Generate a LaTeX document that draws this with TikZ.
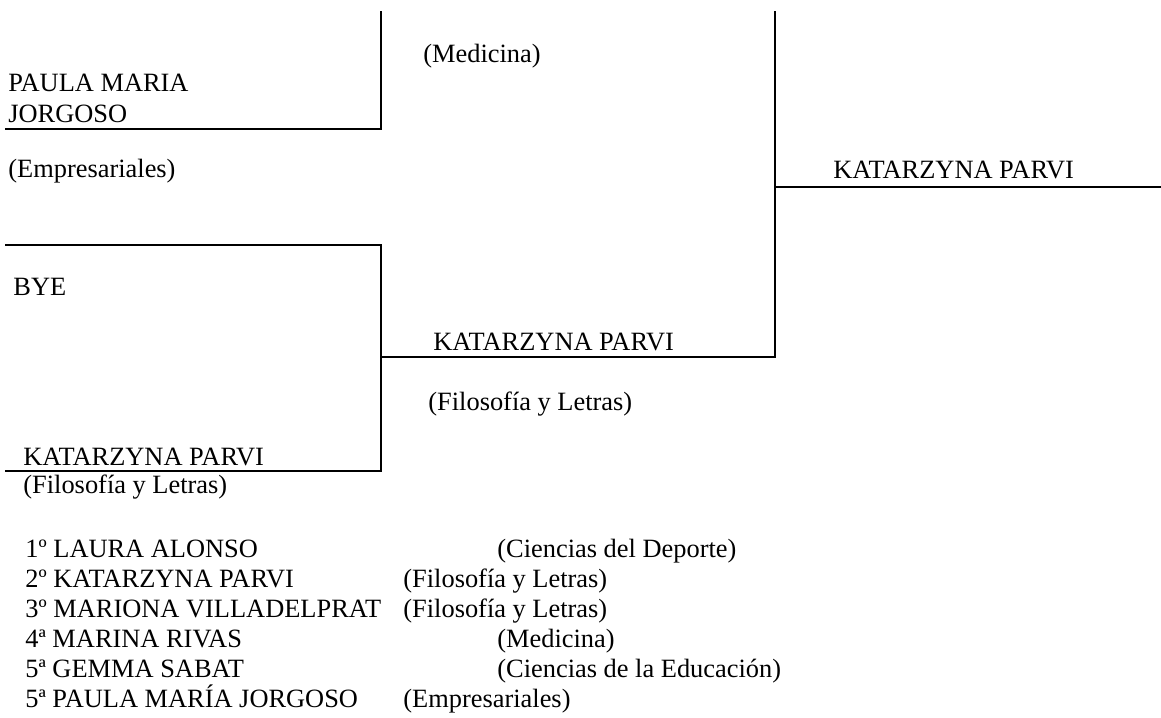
\documentclass[tikz,border=0pt]{standalone}
\usepackage{fontspec}
\setmainfont{Liberation Serif}
\begin{document}
\begin{tikzpicture}[x=0.5pt,y=-0.5pt,
  txt/.style={anchor=base west,inner sep=0pt,font=\fontsize{13.2}{15}\selectfont},
  bracket/.style={line width=1pt,line cap=rect}]
\useasboundingbox (0,0) rectangle (1161,717);
% bracket coordinates
\coordinate (p1) at (6,129);
\coordinate (c1) at (381,129);
\coordinate (t1) at (381,12);
\coordinate (p2) at (6,245);
\coordinate (c2a) at (381,245);
\coordinate (c2b) at (381,471);
\coordinate (p3) at (6,471);
\coordinate (m1) at (381,357);
\coordinate (m2) at (775,357);
\coordinate (t2) at (775,12);
\coordinate (f1) at (775,187);
\coordinate (f2) at (1161,187);
% lines
\draw[bracket] (p1) -- (c1) -- (t1);
\draw[bracket] (p2) -- (c2a) -- (c2b) -- (p3);
\draw[bracket] (m1) -- (m2);
\draw[bracket] (t2) -- (m2);
\draw[bracket] (f1) -- (f2);
% bracket texts
\node[txt] (paula1) at (8,91) {PAULA MARIA};
\node[txt] (paula2) at (8,122) {JORGOSO};
\node[txt] (emp) at (8,177) {(Empresariales)};
\node[txt] (med) at (423,63) {(Medicina)};
\node[txt] (katr) at (833,178) {KATARZYNA PARVI};
\node[txt] (bye) at (13,295) {BYE};
\node[txt] (katl) at (23,465) {KATARZYNA PARVI};
\node[txt] (fill) at (23,493) {(Filosofía y Letras)};
\node[txt] (katm) at (433,350) {KATARZYNA PARVI};
\node[txt] (film) at (428,410) {(Filosofía y Letras)};
% ranking list
\node[txt] (r1) at (25,557) {1º LAURA ALONSO};
\node[txt] (r2) at (25,587) {2º KATARZYNA PARVI};
\node[txt] (r3) at (25,617) {3º MARIONA VILLADELPRAT};
\node[txt] (r4) at (25,647) {4ª MARINA RIVAS};
\node[txt] (r5) at (25,677) {5ª GEMMA SABAT};
\node[txt] (r6) at (25,707) {5ª PAULA MARÍA JORGOSO};
\node[txt] (s1) at (497,557) {(Ciencias del Deporte)};
\node[txt] (s2) at (403,587) {(Filosofía y Letras)};
\node[txt] (s3) at (403,617) {(Filosofía y Letras)};
\node[txt] (s4) at (497,647) {(Medicina)};
\node[txt] (s5) at (497,677) {(Ciencias de la Educación)};
\node[txt] (s6) at (403,707) {(Empresariales)};
\end{tikzpicture}
\end{document}
